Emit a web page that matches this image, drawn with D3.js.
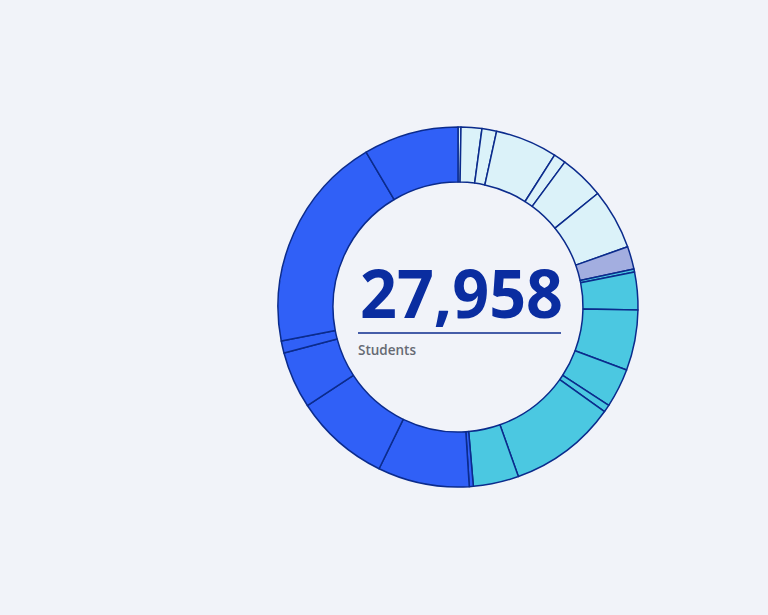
<!DOCTYPE html>
<html>
<head>
<meta charset="utf-8">
<script src="https://cdn.jsdelivr.net/npm/d3@7"></script>
<style>
  html, body { margin: 0; padding: 0; background: #f1f3f9; }
  svg { display: block; }
</style>
</head>
<body>
<svg id="chart" width="768" height="615"></svg>
<script>
// Segment values (students), clockwise from 12 o'clock
const groups = ["light", "light", "light", "light", "light", "light", "light",
                "purple",
                "cyan", "cyan", "cyan", "cyan", "cyan", "cyan", "cyan",
                "blue", "blue", "blue", "blue", "blue", "blue", "blue"];
const values = [74, 521, 368, 1557, 307, 1126, 1518,
                571,
                78, 944, 1518, 979, 186, 2710, 1142,
                101, 2299, 2392, 1429, 303, 5451, 2384];
const groupNames = ["light", "purple", "cyan", "blue"];
const groupColors = ["#dbf2f9", "#a3aee0", "#4bc8e1", "#3060f7"];
const totalLabel = "Students";

const W = 768, H = 615;
const cx = 458, cy = 307, rOuter = 180, rInner = 125;

const svg = d3.select("#chart");
svg.append("rect").attr("width", W).attr("height", H).attr("fill", "#f1f3f9");

const color = d3.scaleOrdinal().domain(groupNames).range(groupColors);
const data = values.map((v, i) => ({ value: v, group: groups[i] }));

const pie = d3.pie().value(d => d.value).sort(null);
const arc = d3.arc().innerRadius(rInner).outerRadius(rOuter);

const g = svg.append("g").attr("transform", `translate(${cx},${cy})`);
g.selectAll("path")
  .data(pie(data))
  .join("path")
  .attr("d", arc)
  .attr("fill", d => color(d.data.group))
  .attr("stroke", "#0b2b8c")
  .attr("stroke-width", 1.5)
  .attr("stroke-linejoin", "round");

const total = d3.sum(values);
g.append("text")
  .attr("x", -98)
  .attr("y", 11)
  .attr("font-family", "'Open Sans', 'Noto Sans', sans-serif")
  .attr("font-weight", 700)
  .attr("font-size", 66)
  .attr("fill", "#0a2da0")
  .attr("textLength", 203)
  .attr("lengthAdjust", "spacingAndGlyphs")
  .text(d3.format(",")(total));

g.append("line")
  .attr("x1", -100).attr("x2", 103)
  .attr("y1", 26).attr("y2", 26)
  .attr("stroke", "#0b2b8c")
  .attr("stroke-width", 1.5);

g.append("text")
  .attr("x", -100)
  .attr("y", 48)
  .attr("font-family", "'Open Sans', 'Noto Sans', sans-serif")
  .attr("font-weight", 600)
  .attr("font-size", 13.5)
  .attr("fill", "#666a73")
  .text(totalLabel);
</script>
</body>
</html>
